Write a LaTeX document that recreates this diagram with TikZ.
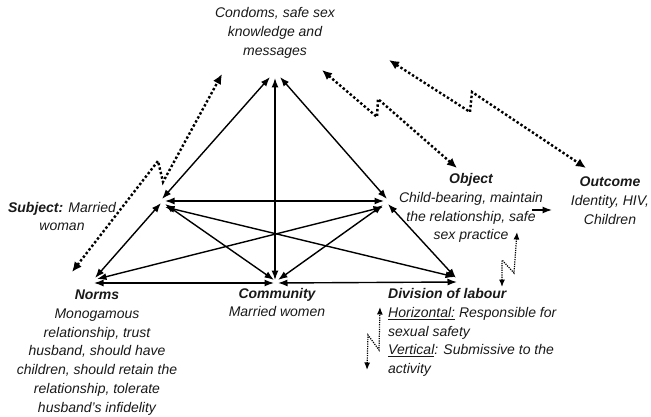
\documentclass[tikz,border=0pt]{standalone}
\usepackage{fontspec}
\setmainfont{Liberation Sans}
\usetikzlibrary{arrows.meta,calc}
\begin{document}
\begin{tikzpicture}[x=1pt,y=-1pt,
  lbl/.style={font=\fontsize{14}{18.8}\selectfont\itshape, align=center, inner sep=0pt, text=black!90},
  rel/.style={{Latex[length=9.5pt,width=7pt]}-{Latex[length=9.5pt,width=7pt]}, line width=1.4pt},
  one/.style={-{Latex[length=9.5pt,width=7pt]}, line width=1.4pt},
  dots/.style={line width=2.4pt, dash pattern=on 2.4pt off 2.2pt, {Latex[length=10pt,width=9pt]}-{Latex[length=10pt,width=9pt]}},
  fdots/.style={line width=1.2pt, dash pattern=on 1.2pt off 1.1pt, {Latex[length=7.5pt,width=6pt]}-{Latex[length=7.5pt,width=6pt]}},
]
\useasboundingbox (0,0) rectangle (651,417);
% vertices
\coordinate (T) at (275,77);
\coordinate (S) at (163,200);
\coordinate (O) at (386,200);
\coordinate (N) at (94,280);
\coordinate (C) at (276,281);
\coordinate (D) at (456,280);
% labels
\node[lbl] (cond) at (275,33) {Condoms, safe sex\\knowledge and\\messages};
\node[lbl] (subj) at (62,216.5) {\textbf{Subject:} Married\\woman};
\node[lbl] (obj) at (471,208) {\textbf{Object}\\Child-bearing, maintain\\the relationship, safe\\sex practice};
\node[lbl] (outc) at (610,200.5) {\textbf{Outcome}\\Identity, HIV,\\Children};
\node[lbl] (norms) at (97,352.5) {\textbf{Norms}\\Monogamous\\relationship, trust\\husband, should have\\children, should retain the\\relationship, tolerate\\husband’s infidelity};
\node[lbl] (comm) at (277,302.5) {\textbf{Community}\\Married women};
\node[lbl, align=left, anchor=west] (div) at (388,332.5) {\textbf{Division of labour}\\\underline{Horizontal:} Responsible for\\sexual safety\\\underline{Vertical}: Submissive to the\\activity};
% solid relations
\draw[rel] ($(S)+(-1,-1)$) -- ($(T)+(-5,0)$);
\draw[rel] ($(O)+(1,-1)$) -- ($(T)+(5,0)$);
\draw[rel] ($(C)+(-1,-1)$) -- ($(T)+(0,1)$);
\draw[rel] ($(S)+(2,1)$) -- ($(O)+(-2,1)$);
\draw[rel] ($(S)+(-2,3)$) -- ($(N)+(1,-2)$);
\draw[rel] ($(S)+(2,4)$) -- ($(C)+(-2,-1)$);
\draw[rel] ($(S)+(2,7)$) -- ($(D)+(-1,-3)$);
\draw[rel] ($(O)+(-3,7)$) -- ($(N)+(3,-1)$);
\draw[rel] ($(O)+(-3,5)$) -- ($(C)+(2,-1)$);
\draw[rel] ($(O)+(2,4)$) -- ($(D)+(0,-2)$);
\draw[rel] ($(N)+(0,3)$) -- ($(C)+(-2,2)$);
\draw[rel] ($(C)+(2,2)$) -- ($(D)+(1,2)$);
% object -> outcome
\coordinate (oo1) at (532,210);
\coordinate (oo2) at (552,210);
\draw[one] (oo1) -- (oo2);
% dotted zig-zag links
\coordinate (sd1) at (72,272);
\coordinate (sd2) at (158,161);
\coordinate (sd3) at (163,182);
\coordinate (sd4) at (222,74);
\draw[dots] (sd1) -- (sd2) -- (sd3) -- (sd4);
\coordinate (od1) at (322,70);
\coordinate (od2) at (377,117);
\coordinate (od3) at (378,99);
\coordinate (od4) at (457,168);
\draw[dots] (od1) -- (od2) -- (od3) -- (od4);
\coordinate (ud1) at (389,60);
\coordinate (ud2) at (470,112);
\coordinate (ud3) at (472,92);
\coordinate (ud4) at (586,168);
\draw[dots] (ud1) -- (ud2) -- (ud3) -- (ud4);
\coordinate (dd1) at (502,287);
\coordinate (dd2) at (502,260);
\coordinate (dd3) at (514,273);
\coordinate (dd4) at (517,232);
\draw[fdots] (dd1) -- (dd2) -- (dd3) -- (dd4);
\coordinate (ld1) at (367,370);
\coordinate (ld2) at (368,335);
\coordinate (ld3) at (379,350);
\coordinate (ld4) at (380,307);
\draw[fdots] (ld1) -- (ld2) -- (ld3) -- (ld4);
\end{tikzpicture}
\end{document}
